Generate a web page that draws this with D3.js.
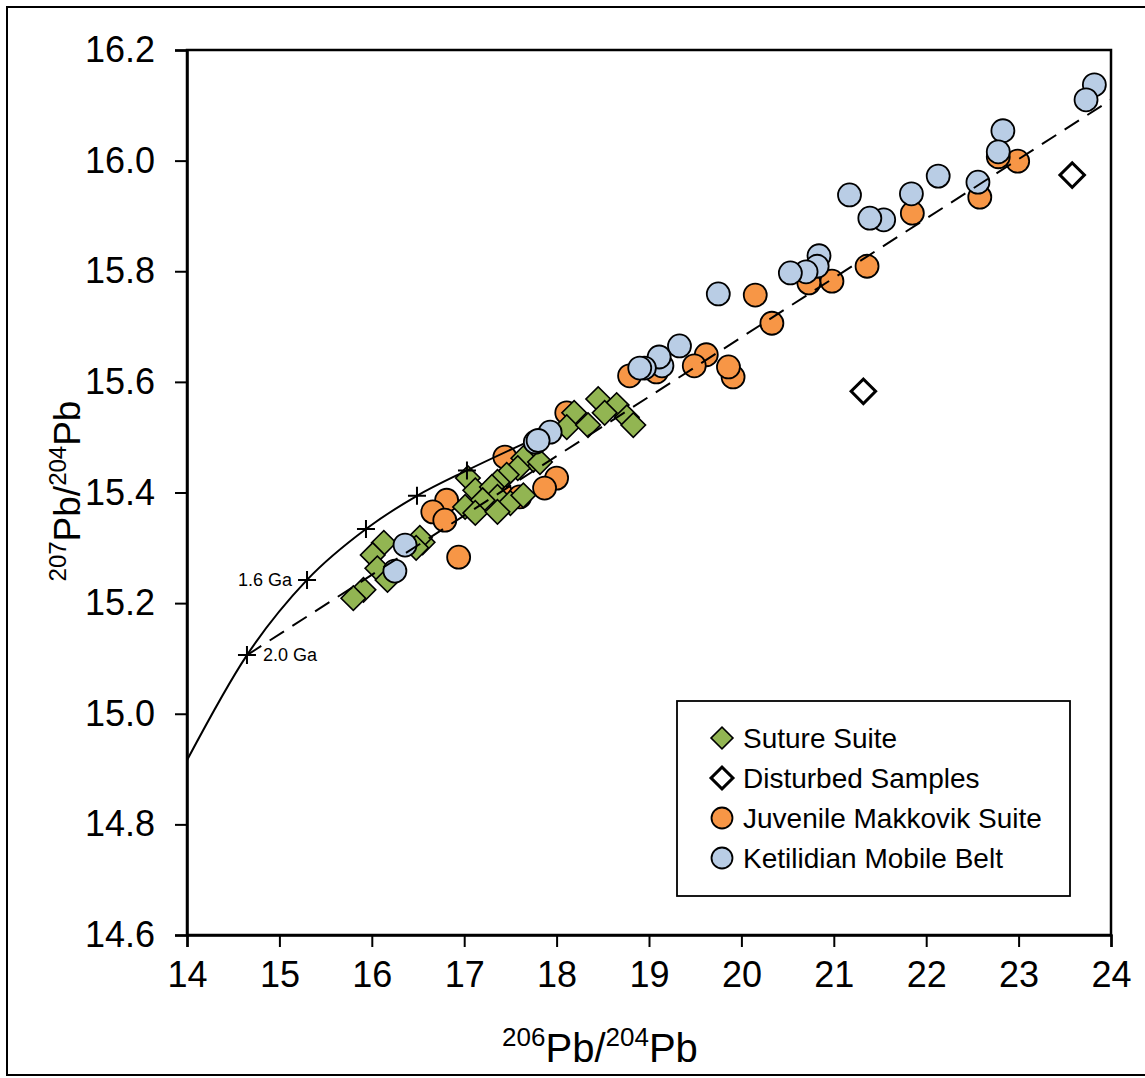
<!DOCTYPE html>
<html>
<head>
<meta charset="utf-8">
<script src="https://cdn.jsdelivr.net/npm/d3@7"></script>
<style>
  html, body { margin: 0; padding: 0; background: #fff; }
  svg { display: block; }
  text { font-family: Arial, "Liberation Sans", sans-serif; fill: #000; }
</style>
</head>
<body>
<svg id="chart" width="1145" height="1078"></svg>
<script>
// Pb isotope data: [206Pb/204Pb, 207Pb/204Pb]
const sutureSuite = [
  [18.45, 15.569], [18.65, 15.558], [18.52, 15.544], [18.76, 15.536], [18.83, 15.522],
  [18.19, 15.544], [18.11, 15.518], [18.34, 15.522], [17.75, 15.459], [17.64, 15.462],
  [17.82, 15.455], [17.58, 15.444], [17.46, 15.432], [17.36, 15.419], [17.04, 15.426],
  [17.12, 15.404], [17.30, 15.410], [17.36, 15.392], [17.20, 15.386], [17.50, 15.381],
  [17.64, 15.395], [17.01, 15.374], [17.12, 15.363], [17.36, 15.365], [16.55, 15.310],
  [16.13, 15.309], [16.01, 15.287], [16.06, 15.263], [16.17, 15.242], [15.91, 15.224],
  [15.80, 15.209], [16.52, 15.318], [16.48, 15.300]
];
const disturbedSamples = [
  [23.58, 15.974], [21.32, 15.583]
];
const juvenileMakkovik = [
  [22.99, 15.999], [22.78, 16.007], [22.58, 15.934], [21.85, 15.905], [21.36, 15.809],
  [20.98, 15.782], [20.73, 15.779], [20.33, 15.706], [20.15, 15.757], [19.91, 15.609],
  [19.86, 15.627], [19.62, 15.649], [19.49, 15.629], [19.08, 15.618], [18.79, 15.611],
  [18.11, 15.544], [18.00, 15.426], [17.87, 15.408], [17.44, 15.464], [17.41, 15.395],
  [17.60, 15.392], [16.81, 15.386], [16.66, 15.365], [16.79, 15.350], [16.94, 15.283]
];
const ketilidianBelt = [
  [23.82, 16.137], [23.73, 16.110], [22.83, 16.054], [22.78, 16.016], [22.56, 15.961],
  [22.13, 15.972], [21.84, 15.940], [21.54, 15.893], [21.39, 15.896], [21.17, 15.938],
  [20.84, 15.828], [20.82, 15.809], [20.70, 15.799], [20.53, 15.797], [19.75, 15.759],
  [19.33, 15.665], [19.14, 15.629], [19.11, 15.645], [18.95, 15.625], [18.90, 15.625],
  [17.93, 15.509], [17.77, 15.491], [17.80, 15.494], [16.36, 15.305], [16.25, 15.258]
];

// Model growth curve and its age marks
const growthCurve = [
  [14.00, 14.916], [14.649, 15.106], [15.299, 15.242], [15.937, 15.334],
  [16.489, 15.394], [17.03, 15.440], [17.64, 15.488]
];
const ageMarks = [
  [14.649, 15.106], [15.299, 15.242], [15.937, 15.334], [16.489, 15.394], [17.03, 15.440]
];
const ageLabels = [
  { label: "2.0 Ga", x: 14.649, y: 15.106, side: "right" },
  { label: "1.6 Ga", x: 15.299, y: 15.242, side: "left" }
];
// Reference line from 2.0 Ga
const referenceLine = [[14.649, 15.106], [24.0, 16.110]];

const xTicks = [14, 15, 16, 17, 18, 19, 20, 21, 22, 23, 24];
const yTicks = [14.6, 14.8, 15.0, 15.2, 15.4, 15.6, 15.8, 16.0, 16.2];

const legendItems = [
  { name: "Suture Suite", shape: "diamond", fill: "#92b552" },
  { name: "Disturbed Samples", shape: "diamond", fill: "#ffffff" },
  { name: "Juvenile Makkovik Suite", shape: "circle", fill: "#f79646" },
  { name: "Ketilidian Mobile Belt", shape: "circle", fill: "#b9cde5" }
];

const svg = d3.select("#chart");
const W = 1145, H = 1078;
const m = { left: 187, right: 1111, top: 50, bottom: 935 };

const x = d3.scaleLinear().domain([14, 24]).range([m.left, m.right]);
const y = d3.scaleLinear().domain([14.6, 16.2]).range([m.bottom, m.top]);

// Outer figure border
svg.append("rect")
  .attr("x", 7).attr("y", 7).attr("width", W + 10).attr("height", 1068)
  .attr("fill", "none").attr("stroke", "#000").attr("stroke-width", 2);

// Clip region for plotted marks
svg.append("defs").append("clipPath").attr("id", "plotClip")
  .append("rect").attr("x", m.left).attr("y", m.top)
  .attr("width", m.right - m.left).attr("height", m.bottom - m.top);

const plot = svg.append("g").attr("clip-path", "url(#plotClip)");

const diamondPath = d3.symbol().type(d3.symbolSquare).size(300);

function drawDiamonds(data, fill, strokeW) {
  plot.append("g").selectAll("path").data(data).join("path")
    .attr("d", diamondPath)
    .attr("transform", d => `translate(${x(d[0])},${y(d[1])}) rotate(45)`)
    .attr("fill", fill).attr("stroke", "#000").attr("stroke-width", strokeW);
}
function drawCircles(data, fill) {
  plot.append("g").selectAll("circle").data(data).join("circle")
    .attr("cx", d => x(d[0])).attr("cy", d => y(d[1])).attr("r", 11.5)
    .attr("fill", fill).attr("stroke", "#000").attr("stroke-width", 1.8);
}

drawCircles(juvenileMakkovik, "#f79646");
drawDiamonds(sutureSuite, "#92b552", 1.6);
drawCircles(ketilidianBelt, "#b9cde5");
drawDiamonds(disturbedSamples, "#ffffff", 3);

// Growth curve (solid) and reference line (dashed)
const line = d3.line().x(d => x(d[0])).y(d => y(d[1]));
plot.append("path").datum(growthCurve)
  .attr("d", line.curve(d3.curveMonotoneX))
  .attr("fill", "none").attr("stroke", "#000").attr("stroke-width", 2);
plot.append("path").datum(referenceLine)
  .attr("d", d3.line().x(d => x(d[0])).y(d => y(d[1]))(referenceLine))
  .attr("fill", "none").attr("stroke", "#000").attr("stroke-width", 2)
  .attr("stroke-dasharray", "17,10");

// Age tick crosses
svg.append("g").selectAll("path").data(ageMarks).join("path")
  .attr("d", d => {
    const cx = x(d[0]), cy = y(d[1]), a = 9;
    return `M${cx - a},${cy}H${cx + a}M${cx},${cy - a}V${cy + a}`;
  })
  .attr("stroke", "#000").attr("stroke-width", 2);

svg.append("g").selectAll("text").data(ageLabels).join("text")
  .attr("x", d => x(d.x) + (d.side === "right" ? 16 : -15))
  .attr("y", d => y(d.y) + 6)
  .attr("text-anchor", d => d.side === "right" ? "start" : "end")
  .attr("font-size", 18)
  .text(d => d.label);

// Plot frame
svg.append("rect")
  .attr("x", m.left).attr("y", m.top)
  .attr("width", m.right - m.left).attr("height", m.bottom - m.top)
  .attr("fill", "none").attr("stroke", "#000").attr("stroke-width", 2.5);

// Axes
const xAxis = svg.append("g").attr("transform", `translate(0,${m.bottom})`)
  .call(d3.axisBottom(x).tickValues(xTicks).tickFormat(d3.format("d")).tickSize(12).tickPadding(14));
const yAxis = svg.append("g").attr("transform", `translate(${m.left},0)`)
  .call(d3.axisLeft(y).tickValues(yTicks).tickFormat(d3.format(".1f")).tickSize(12).tickPadding(20));
[xAxis, yAxis].forEach(g => {
  g.select(".domain").attr("stroke", "#000").attr("stroke-width", 2.5);
  g.selectAll(".tick line").attr("stroke", "#000").attr("stroke-width", 2);
  g.selectAll(".tick text").attr("font-size", 36).attr("fill", "#000")
    .attr("font-family", "Arial, 'Liberation Sans', sans-serif");
});
xAxis.selectAll(".tick text").attr("dy", "0.71em");

// Axis titles with superscript mass numbers
function isotopeTitle(sel, top, bottom, big, small) {
  sel.append("tspan").attr("font-size", small).attr("baseline-shift", "60%").text(top);
  sel.append("tspan").attr("font-size", big).text("Pb/");
  sel.append("tspan").attr("font-size", small).attr("baseline-shift", "60%").text(bottom);
  sel.append("tspan").attr("font-size", big).text("Pb");
}
const xTitle = svg.append("text").attr("x", 600).attr("y", 1062).attr("text-anchor", "middle");
isotopeTitle(xTitle, "206", "204", 40, 26);
const yTitle = svg.append("text")
  .attr("transform", "translate(80,491) rotate(-90)").attr("text-anchor", "middle");
isotopeTitle(yTitle, "207", "204", 37, 24);

// Legend
const lg = svg.append("g");
lg.append("rect").attr("x", 677).attr("y", 701).attr("width", 393).attr("height", 195)
  .attr("fill", "#fff").attr("stroke", "#000").attr("stroke-width", 1.8);
const rows = lg.selectAll("g.row").data(legendItems).join("g")
  .attr("class", "row")
  .attr("transform", (d, i) => `translate(722,${738 + i * 40})`);
rows.each(function(d) {
  const g = d3.select(this);
  if (d.shape === "diamond") {
    g.append("path").attr("d", d3.symbol().type(d3.symbolSquare).size(240)())
      .attr("transform", "rotate(45)")
      .attr("fill", d.fill).attr("stroke", "#000")
      .attr("stroke-width", d.fill === "#ffffff" ? 3 : 1.6);
  } else {
    g.append("circle").attr("r", 10.5).attr("fill", d.fill)
      .attr("stroke", "#000").attr("stroke-width", 1.8);
  }
  g.append("text").attr("x", 21).attr("y", 10).attr("font-size", 28).text(d.name);
});
</script>
</body>
</html>
